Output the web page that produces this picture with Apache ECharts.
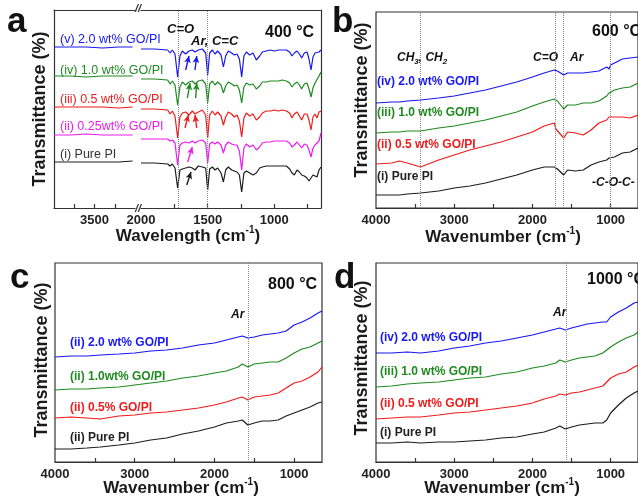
<!DOCTYPE html>
<html>
<head>
<meta charset="utf-8">
<script src="https://cdn.jsdelivr.net/npm/echarts@6/dist/echarts.min.js"></script>
<style>
  html, body { margin: 0; padding: 0; background: #fff; }
  #chart { width: 638px; height: 496px; }
</style>
</head>
<body>
<div id="chart"></div>
<script>
// ---- data (y = transmittance, arbitrary units, stacked with offsets) ----

// panel a, left part of the broken axis (4000 - 3000)
const wnAL = [4000, 3800, 3600, 3400, 3200, 3030];
const aL_blue = [161, 161, 161, 160, 161, 161];
const aL_green = [132, 132, 131, 132, 132, 132];
const aL_red = [101, 101, 101, 101, 100, 101];
const aL_mag = [73, 73, 74, 73, 73, 73];
const aL_black = [46, 46, 46, 46, 46, 47];

// panel a, right part (2000 - 650)
const wnAR = [2000, 1900, 1800, 1782, 1765, 1745, 1725, 1708, 1690, 1665, 1640, 1615, 1595, 1570, 1540,
  1515, 1500, 1485, 1465, 1445, 1425, 1400, 1382, 1365, 1345, 1320, 1300, 1280, 1262, 1245, 1228,
  1210, 1185, 1160, 1135, 1110, 1090, 1060, 1030, 1000, 970, 940, 910, 885, 868, 850, 830, 812,
  795, 775, 755, 740, 725, 710, 695, 680, 665, 650];
const aR_blue = [159, 159, 158, 155, 158, 154, 131, 152, 157, 154, 157, 158, 156, 158, 159,
  155, 133, 155, 158, 154, 157, 153, 141, 152, 157, 155, 153, 154, 149, 131, 152,
  156, 153, 155, 148, 152, 156, 157, 158, 157, 158, 158, 158, 156, 152, 155, 157, 154,
  150, 155, 156, 149, 138, 151, 155, 153, 156, 158];
const aR_green = [129, 129, 128, 124, 127, 123, 103, 121, 126, 123, 126, 127, 124, 127, 128,
  124, 105, 124, 127, 123, 126, 123, 115, 122, 126, 124, 122, 123, 118, 105, 121,
  125, 123, 124, 119, 122, 126, 126, 127, 127, 127, 128, 127, 125, 121, 124, 126, 123,
  119, 124, 125, 119, 111, 120, 125, 126, 132, 136];
const aR_red = [99, 99, 98, 94, 97, 92, 70, 91, 95, 96, 93, 97, 94, 96, 98,
  93, 70, 93, 97, 93, 96, 92, 83, 91, 96, 94, 91, 93, 87, 71, 90,
  95, 92, 94, 88, 91, 95, 97, 97, 98, 97, 98, 97, 95, 90, 94, 96, 92,
  88, 94, 94, 88, 78, 91, 94, 90, 96, 97];
const aR_mag = [69, 69, 69, 67, 68, 65, 43, 63, 65, 66, 65, 67, 65, 67, 68,
  65, 45, 64, 66, 64, 66, 63, 55, 63, 66, 64, 63, 63, 57, 38, 60,
  64, 61, 63, 58, 61, 65, 66, 66, 67, 67, 67, 67, 65, 61, 63, 66, 63,
  60, 64, 63, 58, 51, 60, 63, 62, 67, 75];
const aR_black = [45, 45, 44, 42, 44, 40, 20, 38, 39, 40, 41, 40, 38, 42, 41,
  40, 18, 39, 41, 38, 40, 35, 26, 38, 41, 38, 37, 36, 33, 16, 35,
  37, 35, 33, 35, 40, 41, 42, 42, 42, 42, 42, 42, 39, 35, 33, 38, 36,
  33, 32, 30, 27, 25, 33, 32, 31, 38, 41];

// arrows in panel a: [x1, y1, x2, y2]
const arrowsBlue = [[1665, 138, 1640, 152], [1595, 138, 1582, 152]];
const arrowsGreen = [[1652, 110, 1632, 125], [1590, 110, 1582, 125]];
const arrowsRed = [[1670, 80, 1645, 93], [1582, 80, 1595, 93]];
const arrowsMag = [[1650, 46, 1615, 61]];
const arrowsBlack = [[1657, 23, 1625, 36]];
const peaksA = [1720, 1500];

// panel b, 600 C
const wnB = [4000, 3800, 3700, 3600, 3430, 3200, 3000, 2800, 2600, 2400, 2200, 2000, 1850, 1720, 1700,
  1680, 1600, 1550, 1450, 1350, 1250, 1150, 1050, 1020, 1000, 950, 850, 750, 650];
const b_blue = [105, 106, 106, 107, 108, 110, 112, 115, 118, 122, 126, 131, 135, 138, 138,
  137, 133, 135, 135, 135, 136, 137, 141, 139, 143, 145, 149, 150, 151];
const b_green = [75, 76, 76, 77, 77, 80, 82, 85, 88, 92, 96, 102, 106, 109, 109,
  107, 99, 103, 103, 105, 105, 107, 112, 115, 115, 118, 120, 121, 125];
const b_red = [44, 45, 47, 45, 41, 48, 53, 58, 62, 66, 71, 76, 82, 85, 79,
  78, 70, 76, 75, 73, 78, 85, 88, 91, 92, 91, 91, 90, 93];
const b_black = [13, 13, 13, 14, 15, 17, 20, 22, 25, 29, 33, 38, 41, 41, 40,
  39, 33, 38, 37, 38, 43, 46, 48, 50, 51, 51, 55, 56, 60];
const peaksB = [3430, 1710, 1600, 1010];

// panel c, 800 C
const wnC = [4000, 3800, 3600, 3430, 3200, 3000, 2800, 2600, 2400, 2200, 2000, 1850, 1700, 1650, 1580,
  1500, 1400, 1300, 1200, 1100, 1000, 900, 800, 700, 650];
const c_blue = [105, 106, 106, 107, 108, 109, 111, 112, 114, 117, 119, 122, 125, 126, 124,
  125, 127, 128, 129, 131, 137, 140, 144, 149, 151];
const c_green = [72, 73, 73, 74, 75, 77, 79, 81, 84, 86, 89, 91, 95, 98, 95,
  98, 99, 100, 100, 104, 109, 113, 115, 119, 121];
const c_red = [44, 45, 44, 43, 46, 47, 49, 50, 52, 54, 57, 60, 64, 65, 62,
  65, 66, 67, 69, 74, 79, 81, 85, 90, 95];
const c_black = [13, 13, 14, 15, 17, 19, 22, 24, 28, 31, 35, 39, 41, 42, 37,
  39, 41, 41, 42, 46, 49, 52, 55, 59, 60];
const peaksC = [1580];

// panel d, 1000 C
const wnD = [4000, 3800, 3600, 3430, 3200, 3000, 2800, 2600, 2400, 2200, 2000, 1850, 1700, 1650, 1580,
  1500, 1400, 1300, 1200, 1100, 1050, 1000, 900, 800, 700, 650];
const d_blue = [109, 109, 110, 109, 111, 114, 116, 119, 121, 124, 127, 130, 133, 134, 132,
  134, 136, 138, 139, 140, 140, 145, 150, 154, 159, 160];
const d_green = [75, 76, 78, 79, 80, 82, 84, 85, 88, 90, 94, 96, 99, 102, 100,
  102, 104, 105, 106, 109, 112, 115, 120, 124, 127, 130];
const d_red = [43, 44, 45, 45, 47, 49, 50, 52, 54, 56, 59, 63, 66, 68, 67,
  69, 70, 72, 74, 76, 80, 84, 88, 90, 95, 97];
const d_black = [19, 19, 20, 19, 20, 20, 21, 22, 24, 25, 28, 30, 34, 36, 33,
  35, 37, 38, 39, 39, 42, 49, 57, 64, 69, 71];
const peaksD = [1570];

// tick values
const ticksAL = [3250, 3500, 3750];
const labelsAL = [3500];
const ticksAR = [750, 1000, 1250, 1500, 1750];
const labelsAR = [1000, 1500, 2000];
const ticksWide = [1000, 1500, 2000, 2500, 3000, 3500];
const labelsWide = [1000, 2000, 3000, 4000];

// ---- style ----
const FF = '"Liberation Sans", Arial, Helvetica, sans-serif';
const BLUE = '#1717f2';
const GREEN = '#1f8a1f';
const RED = '#f01b1b';
const MAG = '#ee1bee';
const BLACK = '#1c1c1c';
const AXIS = '#333';

const chart = echarts.init(document.getElementById('chart'), null, {renderer: 'canvas'});

function xAx(gridIndex, min, max, ticks, labels, opts) {
  return Object.assign({
    type: 'value', gridIndex, min, max, inverse: true,
    axisLine: {show: true, onZero: false, lineStyle: {color: AXIS, width: 1.2}},
    axisTick: {show: true, inside: true, length: 4, customValues: ticks, lineStyle: {color: AXIS, width: 1.2}},
    axisLabel: {customValues: labels, showMinLabel: true, showMaxLabel: true, margin: 6,
      formatter: v => String(v),
      color: '#222', fontWeight: 'bold', fontSize: 13, fontFamily: FF},
    splitLine: {show: false},
  }, opts || {});
}
function yAx(gridIndex, max, opts) {
  return Object.assign({
    type: 'value', gridIndex, min: 0, max,
    axisLine: {show: false, lineStyle: {color: AXIS, width: 1.2}},
    axisTick: {show: false}, axisLabel: {show: false}, splitLine: {show: false},
  }, opts || {});
}
function topAx(gridIndex, min, max) {
  return {type: 'value', gridIndex, min, max, inverse: true, position: 'top',
    axisLine: {show: true, onZero: false, lineStyle: {color: AXIS, width: 1.2}},
    axisTick: {show: false}, axisLabel: {show: false}, splitLine: {show: false}};
}

function line(xi, ws, vs, color, markLine) {
  const s = {
    type: 'line', xAxisIndex: xi, yAxisIndex: xi, symbol: 'none', showSymbol: false,
    data: ws.map((w, i) => [w, vs[i]]),
    lineStyle: {color, width: 1.2}, itemStyle: {color},
    silent: true, animation: false,
  };
  if (markLine) s.markLine = markLine;
  return s;
}
function peakLines(list) {
  return list.map(v => ({xAxis: v, lineStyle: {type: 'dotted', color: '#888', width: 1}}));
}
function arrowLines(list, color) {
  return list.map(a => [
    {coord: [a[0], a[1]], symbol: 'none', lineStyle: {color, width: 1.4, type: 'solid'}},
    {coord: [a[2], a[3]], symbol: 'arrow', symbolSize: [5, 7]},
  ]);
}
function ml(data) {
  return {silent: true, symbol: ['none', 'none'], label: {show: false}, animation: false, data};
}

function txt(x, y, text, font, fill, align) {
  return {type: 'text', x, y, silent: true,
    style: {text, font, fill, textAlign: align || 'left', textVerticalAlign: 'middle'}};
}
function ytitle(x, y) {
  return {type: 'text', x, y, rotation: Math.PI / 2, silent: true,
    style: {text: 'Transmittance (%)', font: 'bold 18px ' + FF, fill: '#1a1a1a',
      textAlign: 'center', textVerticalAlign: 'middle'}};
}
function xtitle(x, y, word) {
  return {type: 'text', x, y, silent: true,
    style: {text: '{t|' + word + ' (cm}{s|-1}{t|)}', textAlign: 'center', textVerticalAlign: 'middle',
      rich: {
        t: {fontSize: 17, fontWeight: 'bold', fontFamily: FF, fill: '#1a1a1a'},
        s: {fontSize: 10, fontWeight: 'bold', fontFamily: FF, fill: '#1a1a1a', padding: [0, 0, 11, 0]},
      }}};
}
const bi = 'italic bold 12px ' + FF;
const lab = 'bold 12px ' + FF;
const big = 'bold 35px ' + FF;
const temp = 'bold 16px ' + FF;
const brk = 'italic bold 11px ' + FF;

const graphics = [
  // panel letters
  txt(7, 22, 'a', big, '#111'),
  txt(332, 22, 'b', big, '#111'),
  txt(10, 278, 'c', big, '#111'),
  txt(334, 278, 'd', big, '#111'),
  // axis titles
  ytitle(40, 109), ytitle(362, 100), ytitle(42, 360), ytitle(362, 358),
  xtitle(188, 236, 'Wavelength'), xtitle(503, 237, 'Wavenumber'),
  xtitle(181, 488, 'Wavenumber'), xtitle(502, 488, 'Wavenumber'),
  // break marks
  txt(138, 9, '//', brk, '#333', 'center'),
  txt(138, 209, '//', brk, '#333', 'center'),
  // panel a
  txt(60, 40, '(v) 2.0 wt% GO/PI', '12.5px ' + FF, BLUE),
  txt(60, 71, '(iv) 1.0 wt% GO/PI', '12.5px ' + FF, GREEN),
  txt(60, 100, '(iii) 0.5 wt% GO/PI', '12.5px ' + FF, RED),
  txt(60, 127, '(ii) 0.25wt% GO/PI', '12.5px ' + FF, MAG),
  txt(60, 155, '(i) Pure PI', '12.5px ' + FF, '#333'),
  txt(167, 29, 'C=O', 'italic bold 13px ' + FF, '#111'),
  txt(191, 41, 'Ar, C=C', 'italic bold 13px ' + FF, '#111'),
  txt(265, 33, '400 °C', temp, '#111'),
  // panel b
  txt(377, 82, '(iv) 2.0 wt% GO/PI', lab, BLUE),
  txt(377, 113, '(iii) 1.0 wt% GO/PI', lab, GREEN),
  txt(377, 145, '(ii) 0.5 wt% GO/PI', lab, RED),
  txt(377, 177, '(i) Pure PI', lab, '#222'),
  {type: 'text', x: 397, y: 58, silent: true,
    style: {text: '{m|CH}{s|3}{m|, CH}{s|2}', textAlign: 'left', textVerticalAlign: 'middle',
      rich: {
        m: {fontSize: 12, fontWeight: 'bold', fontStyle: 'italic', fontFamily: FF, fill: '#111'},
        s: {fontSize: 8, fontWeight: 'bold', fontStyle: 'italic', fontFamily: FF, fill: '#111', padding: [8, 0, 0, 0]},
      }}},
  txt(533, 58, 'C=O', bi, '#111'),
  txt(570, 58, 'Ar', bi, '#111'),
  txt(592, 32, '600 °C', temp, '#111'),
  txt(592, 183, '-C-O-C-', bi, '#111'),
  // panel c
  txt(70, 343, '(ii) 2.0 wt% GO/PI', lab, BLUE),
  txt(70, 377, '(ii) 1.0wt% GO/PI', lab, GREEN),
  txt(70, 408, '(ii) 0.5% GO/PI', lab, RED),
  txt(70, 438, '(ii) Pure PI', lab, '#222'),
  txt(231, 315, 'Ar', bi, '#111'),
  txt(268, 285, '800 °C', temp, '#111'),
  // panel d
  txt(380, 338, '(iv) 2.0 wt% GO/PI', lab, BLUE),
  txt(380, 372, '(iii) 1.0 wt% GO/PI', lab, GREEN),
  txt(380, 404, '(ii) 0.5 wt% GO/PI', lab, RED),
  txt(380, 433, '(i) Pure PI', lab, '#222'),
  txt(553, 313, 'Ar', bi, '#111'),
  txt(587, 280, '1000 °C', temp, '#111'),
];

const frame = {show: true, borderColor: AXIS, borderWidth: 1.2, backgroundColor: 'transparent'};

const option = {
  backgroundColor: '#fff',
  animation: false,
  grid: [
    {left: 54, top: 10, width: 81, height: 198},
    {left: 141, top: 10, width: 180, height: 198},
    Object.assign({left: 376, top: 12, width: 266, height: 196}, frame),
    Object.assign({left: 55, top: 263, width: 267, height: 199}, frame),
    Object.assign({left: 376, top: 263, width: 266, height: 199}, frame),
  ],
  xAxis: [
    xAx(0, 3000, 4000, ticksAL, labelsAL),
    xAx(1, 650, 2000, ticksAR, labelsAR),
    xAx(2, 650, 4000, ticksWide, labelsWide),
    xAx(3, 650, 4000, ticksWide, labelsWide),
    xAx(4, 650, 4000, ticksWide, labelsWide),
    topAx(0, 3000, 4000),
    topAx(1, 650, 2000),
  ],
  yAxis: [
    yAx(0, 198, {axisLine: {show: true, lineStyle: {color: AXIS, width: 1.2}}}),
    yAx(1, 198, {position: 'right', axisLine: {show: true, lineStyle: {color: AXIS, width: 1.2}}}),
    yAx(2, 196),
    yAx(3, 199),
    yAx(4, 199),
  ],
  series: [
    line(0, wnAL, aL_blue, BLUE),
    line(0, wnAL, aL_green, GREEN),
    line(0, wnAL, aL_red, RED),
    line(0, wnAL, aL_mag, MAG),
    line(0, wnAL, aL_black, BLACK),

    line(1, wnAR, aR_black, BLACK, ml(peakLines(peaksA).concat(arrowLines(arrowsBlack, BLACK)))),
    line(1, wnAR, aR_mag, MAG, ml(arrowLines(arrowsMag, MAG))),
    line(1, wnAR, aR_red, RED, ml(arrowLines(arrowsRed, RED))),
    line(1, wnAR, aR_green, GREEN, ml(arrowLines(arrowsGreen, GREEN))),
    line(1, wnAR, aR_blue, BLUE, ml(arrowLines(arrowsBlue, BLUE))),

    line(2, wnB, b_black, BLACK, ml(peakLines(peaksB))),
    line(2, wnB, b_red, RED),
    line(2, wnB, b_green, GREEN),
    line(2, wnB, b_blue, BLUE),

    line(3, wnC, c_black, BLACK, ml(peakLines(peaksC))),
    line(3, wnC, c_red, RED),
    line(3, wnC, c_green, GREEN),
    line(3, wnC, c_blue, BLUE),

    line(4, wnD, d_black, BLACK, ml(peakLines(peaksD))),
    line(4, wnD, d_red, RED),
    line(4, wnD, d_green, GREEN),
    line(4, wnD, d_blue, BLUE),
  ],
  graphic: graphics,
};

chart.setOption(option);
</script>
</body>
</html>
